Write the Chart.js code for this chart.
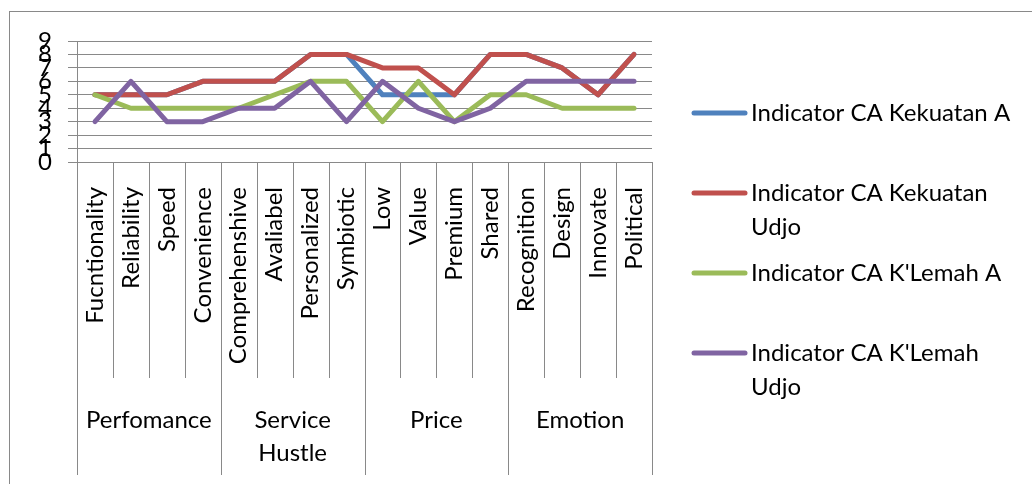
<!DOCTYPE html>
<html>
<head>
<meta charset="utf-8">
<script src="https://cdn.jsdelivr.net/npm/chart.js@4"></script>
<style>
  body { margin: 0; background: #fff; }
  #wrap { width: 1032px; height: 484px; position: relative; }
</style>
</head>
<body>
<div id="wrap"><canvas id="chart"></canvas></div>
<script>
// categories and groups
const categories = ["Fucntionality", "Reliability", "Speed", "Convenience",
                    "Comprehenshive", "Avaliabel", "Personalized", "Symbiotic",
                    "Low", "Value", "Premium", "Shared",
                    "Recognition", "Design", "Innovate", "Political"];
const groupNames = [["Perfomance"], ["Service", "Hustle"], ["Price"], ["Emotion"]];
const groupSizes = [4, 4, 4, 4];

// series values
const kekuatanA    = [5, 5, 5, 6, 6, 6, 8, 8, 5, 5, 5, 8, 8, 7, 5, 8];
const kekuatanUdjo = [5, 5, 5, 6, 6, 6, 8, 8, 7, 7, 5, 8, 8, 7, 5, 8];
const lemahA       = [5, 4, 4, 4, 4, 5, 6, 6, 3, 6, 3, 5, 5, 4, 4, 4];
const lemahUdjo    = [3, 6, 3, 3, 4, 4, 6, 3, 6, 4, 3, 4, 6, 6, 6, 6];

const seriesNames = ["Indicator CA Kekuatan A", "Indicator CA Kekuatan Udjo",
                     "Indicator CA K'Lemah A", "Indicator CA K'Lemah Udjo"];
const yTicks = [0, 1, 2, 3, 4, 5, 6, 7, 8, 9];

const FONT = "24px Lato";
const GRID = "#898989";

// outer frame, group separators, group labels and legend
const extras = {
  id: "extras",
  beforeDraw(chart) {
    const ctx = chart.ctx;
    ctx.save();
    ctx.strokeStyle = GRID;
    ctx.lineWidth = 1;
    ctx.strokeRect(9.5, 11.5, 2000, 2000);
    ctx.restore();
  },
  afterDraw(chart) {
    const ctx = chart.ctx;
    const x = chart.scales.x;
    const n = categories.length;
    const bound = i => i === 0 ? x.left : i === n ? x.right
      : (x.getPixelForValue(i - 1) + x.getPixelForValue(i)) / 2;

    // which boundaries close a group
    const groupEnds = [0];
    groupSizes.reduce((acc, s) => { groupEnds.push(acc + s); return acc + s; }, 0);

    ctx.save();
    ctx.strokeStyle = GRID;
    ctx.lineWidth = 1;
    for (let i = 0; i <= n; i++) {
      const px = Math.round(bound(i)) + 0.5;
      const bottom = groupEnds.includes(i) ? x.top + 313 : x.top + 216;
      ctx.beginPath();
      ctx.moveTo(px, x.top);
      ctx.lineTo(px, bottom);
      ctx.stroke();
    }

    ctx.fillStyle = "#000";
    ctx.font = FONT;
    ctx.textAlign = "center";
    ctx.textBaseline = "middle";
    groupNames.forEach((lines, g) => {
      const cx = (bound(groupEnds[g]) + bound(groupEnds[g + 1])) / 2;
      lines.forEach((t, k) => ctx.fillText(t, cx, x.top + 258 + k * 33));
    });

    // legend
    ctx.textAlign = "left";
    chart.data.datasets.forEach((ds, i) => {
      const y = 113 + i * 80;
      ctx.strokeStyle = ds.borderColor;
      ctx.lineWidth = 5;
      ctx.lineCap = "round";
      ctx.beginPath();
      ctx.moveTo(694, y);
      ctx.lineTo(745, y);
      ctx.stroke();
      // wrap text
      const words = ds.label.split(" ");
      const lines = [];
      let cur = "";
      words.forEach(w => {
        const test = cur ? cur + " " + w : w;
        if (ctx.measureText(test).width > 272 && cur) { lines.push(cur); cur = w; }
        else cur = test;
      });
      lines.push(cur);
      ctx.fillStyle = "#000";
      lines.forEach((t, k) => ctx.fillText(t, 751, y + k * 34));
    });
    ctx.restore();
  }
};

function makeSet(label, data, color, order) {
  return {
    label: label,
    data: data,
    borderColor: color,
    backgroundColor: color,
    borderWidth: 5,
    pointRadius: 0,
    pointHoverRadius: 0,
    tension: 0,
    borderCapStyle: "round",
    borderJoinStyle: "round",
    order: order
  };
}

function creatChart() {
  Chart.defaults.font.family = "Lato";
  Chart.defaults.font.size = 24;
  Chart.defaults.color = "#000";

  new Chart(document.getElementById("chart"), {
    type: "line",
    data: {
      labels: categories,
      datasets: [
        makeSet(seriesNames[0], kekuatanA, "#4F81BD", 4),
        makeSet(seriesNames[1], kekuatanUdjo, "#C0504D", 3),
        makeSet(seriesNames[2], lemahA, "#9BBB59", 2),
        makeSet(seriesNames[3], lemahUdjo, "#8064A2", 1)
      ]
    },
    options: {
      responsive: true,
      maintainAspectRatio: false,
      animation: false,
      events: [],
      layout: { padding: { left: 0, right: 380, top: 41, bottom: 0 } },
      plugins: { legend: { display: false }, tooltip: { enabled: false } },
      scales: {
        x: {
          offset: true,
          grid: { display: false, drawTicks: false },
          border: { display: false },
          ticks: { autoSkip: false, minRotation: 90, maxRotation: 90, padding: 25, color: "#000" },
          afterFit: s => { s.height = 322; }
        },
        y: {
          min: 0,
          max: 9,
          afterBuildTicks: s => { s.ticks = yTicks.map(v => ({ value: v })); },
          grid: { color: GRID, lineWidth: 1, tickLength: 9 },
          border: { color: GRID, width: 1 },
          ticks: { autoSkip: false, padding: 16, color: "#000" },
          afterFit: s => { s.width = 77; }
        }
      }
    },
    plugins: [extras]
  });
}

document.fonts.load(FONT).then(creatChart, creatChart);
</script>
</body>
</html>
